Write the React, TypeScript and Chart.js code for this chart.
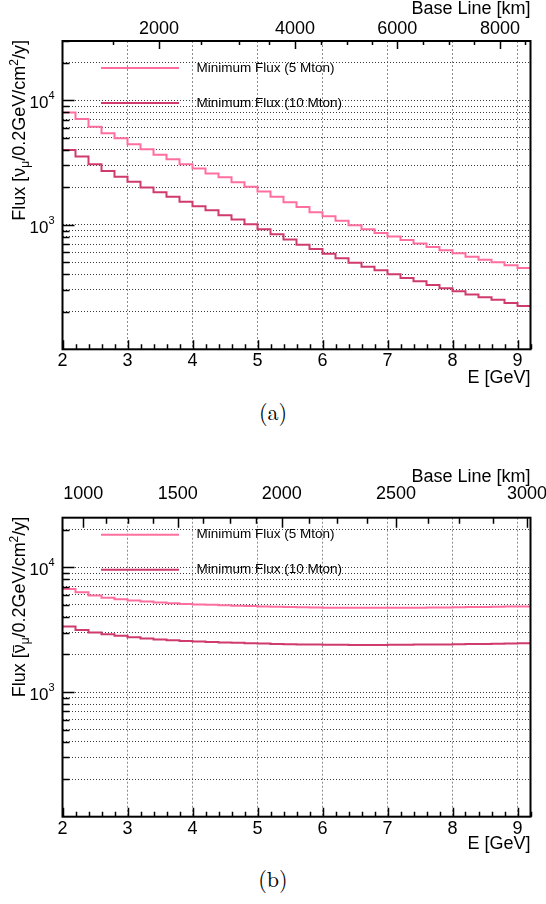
import React, { useEffect, useRef } from "react";
import { Chart, registerables } from "chart.js";
Chart.register(...registerables);

// ---------------- data ----------------
const binEdges = [
  2.0, 2.2, 2.4, 2.6, 2.8, 3.0, 3.2, 3.4, 3.6, 3.8, 4.0, 4.2, 4.4, 4.6, 4.8, 5.0, 5.2, 5.4, 5.6,
  5.8, 6.0, 6.2, 6.4, 6.6, 6.8, 7.0, 7.2, 7.4, 7.6, 7.8, 8.0, 8.2, 8.4, 8.6, 8.8, 9.0, 9.2,
];

// (a) nu_mu minimum flux
const fluxA5 = [
  8000, 7100, 6150, 5450, 4960, 4450, 4050, 3650, 3360, 3070, 2830, 2590, 2410, 2200, 2020, 1850,
  1680, 1518, 1390, 1265, 1170, 1077, 994, 923, 858, 807, 754, 709, 663, 624, 590, 555, 525, 500,
  473, 450,
];
const fluxA10 = [
  4000, 3540, 3070, 2710, 2440, 2220, 2000, 1825, 1680, 1532, 1410, 1310, 1195, 1103, 1012, 923,
  840, 763, 692, 640, 586, 538, 497, 461, 431, 401, 374, 352, 329, 310, 293, 276, 262, 250, 236,
  223,
];

// (b) anti-nu_mu minimum flux
const fluxB5 = [
  6700, 6300, 5950, 5700, 5550, 5420, 5320, 5220, 5150, 5090, 5040, 5000, 4960, 4920, 4890, 4860,
  4830, 4800, 4780, 4760, 4750, 4740, 4735, 4730, 4730, 4735, 4740, 4750, 4760, 4770, 4780, 4795,
  4810, 4825, 4840, 4860,
];
const fluxB10 = [
  3350, 3150, 3000, 2900, 2820, 2750, 2690, 2640, 2600, 2570, 2540, 2520, 2500, 2480, 2460, 2445,
  2430, 2420, 2410, 2400, 2395, 2390, 2385, 2385, 2385, 2390, 2395, 2400, 2405, 2410, 2420, 2425,
  2430, 2440, 2450, 2460,
];

const seriesLabels = ["Minimum Flux (5 Mton)", "Minimum Flux (10 Mton)"];
const xTickValues = [2, 3, 4, 5, 6, 7, 8, 9];
const yGridValues = [
  200, 300, 400, 500, 600, 700, 800, 900, 1000, 2000, 3000, 4000, 5000, 6000, 7000, 8000, 9000,
  10000, 20000, 30000,
];
const yDecades = [1000, 10000];

// top "Base Line [km]" axis: labels and the energies at which they sit
const baseLineALabels = [2000, 4000, 6000, 8000];
const baseLineAMajorE = [3.485, 5.577, 7.151, 8.731];
const baseLineAMinorE = [2.78, 4.13, 4.715, 5.18, 5.97, 6.37, 6.76, 7.55, 7.95, 8.335, 9.12];

const baseLineBLabels = [1000, 1500, 2000, 2500, 3000];
const baseLineBMajorE = [2.32, 3.772, 5.372, 7.131, 9.146];
const baseLineBMinorE = [2.665, 3.0, 3.397, 4.157, 4.577, 4.98, 5.797, 6.228, 6.68, 7.618, 8.105, 8.618];

// ---------------- style ----------------
const FONT = '"Liberation Sans", Arial, Helvetica, sans-serif';
const COLOR5 = "#ff6f9e";
const COLOR10 = "#cf3b6c";

type Piece = { t: string; k: "n" | "sub" | "sup" | "bar" };

type PanelCfg = {
  canvasH: number;
  pad: { left: number; right: number; top: number; bottom: number };
  yMax: number;
  v5: number[];
  v10: number[];
  topLabels: number[];
  topMajorE: number[];
  topMinorE: number[];
  topMajorLen: number;
  topMinorLen: number;
  topLabelDy: number;
  topTitleDy: number;
  xTitleDy: number;
  legendDy: [number, number];
  yTitle: Piece[];
};

function drawYTitle(ctx: CanvasRenderingContext2D, pieces: Piece[], xc: number, yTop: number, size: number) {
  const fN = `${size}px ${FONT}`;
  const fS = `${Math.round(size * 0.68)}px ${FONT}`;
  const widths: number[] = [];
  let total = 0;
  for (const p of pieces) {
    ctx.font = p.k === "sub" || p.k === "sup" ? fS : fN;
    const w = ctx.measureText(p.t).width;
    widths.push(w);
    total += w;
  }
  ctx.save();
  ctx.translate(xc, yTop + total);
  ctx.rotate(-Math.PI / 2);
  ctx.textAlign = "left";
  ctx.textBaseline = "alphabetic";
  ctx.fillStyle = "#000";
  const base = size * 0.36;
  let cx = 0;
  pieces.forEach((p, i) => {
    let dy = base;
    if (p.k === "sub") {
      ctx.font = fS;
      dy = base + size * 0.22;
    } else if (p.k === "sup") {
      ctx.font = fS;
      dy = base - size * 0.42;
    } else ctx.font = fN;
    ctx.fillText(p.t, cx, dy);
    if (p.k === "bar") {
      ctx.beginPath();
      ctx.lineWidth = 1;
      ctx.strokeStyle = "#000";
      ctx.moveTo(cx + 1, base - size * 0.66);
      ctx.lineTo(cx + widths[i] - 1, base - size * 0.66);
      ctx.stroke();
    }
    cx += widths[i];
  });
  ctx.restore();
}

function makePlugin(cfg: PanelCfg) {
  return {
    id: "rootAxes",
    afterDraw(chart: any) {
      const ctx: CanvasRenderingContext2D = chart.ctx;
      const { left, right, top, bottom } = chart.chartArea;
      const xs = chart.scales.x;
      const ys = chart.scales.y;
      ctx.save();
      ctx.strokeStyle = "#000";
      ctx.fillStyle = "#000";
      ctx.lineWidth = 1.5;
      // ticks bottom
      ctx.beginPath();
      for (const e of binEdges) {
        const px = Math.round(xs.getPixelForValue(e)) + 0.5;
        const major = xTickValues.some((v) => Math.abs(v - e) < 1e-6);
        ctx.moveTo(px, bottom);
        ctx.lineTo(px, bottom - (major ? 9 : 5));
      }
      // ticks left
      for (const v of yGridValues) {
        if (v > cfg.yMax) continue;
        const py = Math.round(ys.getPixelForValue(v)) + 0.5;
        const major = yDecades.includes(v);
        ctx.moveTo(left, py);
        ctx.lineTo(left + (major ? 12 : 7), py);
      }
      // ticks top
      for (const e of cfg.topMajorE) {
        const px = Math.round(xs.getPixelForValue(e)) + 0.5;
        ctx.moveTo(px, top);
        ctx.lineTo(px, top + cfg.topMajorLen);
      }
      for (const e of cfg.topMinorE) {
        const px = Math.round(xs.getPixelForValue(e)) + 0.5;
        ctx.moveTo(px, top);
        ctx.lineTo(px, top + cfg.topMinorLen);
      }
      ctx.stroke();
      // frame
      ctx.lineWidth = 2;
      ctx.strokeRect(left, top, right - left, bottom - top);

      // x labels
      ctx.font = `18px ${FONT}`;
      ctx.textAlign = "center";
      ctx.textBaseline = "middle";
      for (const v of xTickValues) ctx.fillText(String(v), xs.getPixelForValue(v), bottom + 12);
      ctx.textAlign = "right";
      ctx.fillText("E [GeV]", right, bottom + cfg.xTitleDy);

      // top labels
      ctx.textAlign = "center";
      cfg.topLabels.forEach((lab, i) => {
        ctx.fillText(String(lab), xs.getPixelForValue(cfg.topMajorE[i]), top - cfg.topLabelDy);
      });
      ctx.textAlign = "right";
      ctx.fillText("Base Line [km]", right, top - cfg.topTitleDy);

      // y labels 10^n
      for (const v of yDecades) {
        const py = ys.getPixelForValue(v);
        const exp = String(Math.round(Math.log10(v)));
        ctx.font = `11px ${FONT}`;
        const ew = ctx.measureText(exp).width;
        ctx.textAlign = "left";
        ctx.fillText(exp, left - 8 - ew, py - 4);
        ctx.font = `17px ${FONT}`;
        ctx.textAlign = "right";
        ctx.fillText("10", left - 8 - ew, py + 3);
      }

      // y title
      drawYTitle(ctx, cfg.yTitle, 19, top - 1, 18);

      // legend
      const cols = [COLOR5, COLOR10];
      ctx.font = `13.5px ${FONT}`;
      ctx.textAlign = "left";
      cols.forEach((c, i) => {
        const ly = top + cfg.legendDy[i];
        ctx.beginPath();
        ctx.strokeStyle = c;
        ctx.lineWidth = 2;
        ctx.moveTo(101, ly);
        ctx.lineTo(179, ly);
        ctx.stroke();
        ctx.fillStyle = "#000";
        ctx.fillText(seriesLabels[i], 196.5, ly);
      });
      ctx.restore();
    },
  };
}

function Panel({ cfg }: { cfg: PanelCfg }) {
  const ref = useRef<HTMLCanvasElement | null>(null);
  useEffect(() => {
    if (!ref.current) return;
    const mk = (vals: number[]) =>
      binEdges.map((x, i) => ({ x, y: vals[Math.min(i, vals.length - 1)] }));
    const chart = new Chart(ref.current, {
      type: "line",
      data: {
        datasets: [
          {
            label: seriesLabels[0],
            data: mk(cfg.v5),
            borderColor: COLOR5,
            borderWidth: 2,
            pointRadius: 0,
            stepped: "before",
            fill: false,
          },
          {
            label: seriesLabels[1],
            data: mk(cfg.v10),
            borderColor: COLOR10,
            borderWidth: 2,
            pointRadius: 0,
            stepped: "before",
            fill: false,
          },
        ],
      },
      options: {
        animation: false,
        responsive: false,
        devicePixelRatio: 1,
        layout: { padding: cfg.pad },
        plugins: { legend: { display: false }, tooltip: { enabled: false } },
        scales: {
          x: {
            type: "linear",
            min: 2,
            max: 9.2,
            ticks: { display: false },
            grid: { color: "#8c8c8c", lineWidth: 1, drawTicks: false },
            border: { display: false, dash: [2, 2] },
            afterBuildTicks: (s: any) => {
              s.ticks = xTickValues.map((v) => ({ value: v }));
            },
            afterFit: (s: any) => {
              s.height = 0;
            },
          },
          y: {
            type: "logarithmic",
            min: 100,
            max: cfg.yMax,
            ticks: { display: false },
            grid: { color: "#3a3a3a", lineWidth: 1, drawTicks: false },
            border: { display: false, dash: [1, 2] },
            afterBuildTicks: (s: any) => {
              s.ticks = yGridValues.filter((v) => v <= cfg.yMax).map((v) => ({ value: v }));
            },
            afterFit: (s: any) => {
              s.width = 0;
            },
          },
        },
      } as any,
      plugins: [makePlugin(cfg)],
    });
    return () => chart.destroy();
  }, [cfg]);
  return <canvas ref={ref} width={546} height={cfg.canvasH} style={{ display: "block" }} />;
}

const panelA: PanelCfg = {
  canvasH: 395,
  pad: { left: 62.5, right: 15.5, top: 41, bottom: 45.7 },
  yMax: 30000,
  v5: fluxA5,
  v10: fluxA10,
  topLabels: baseLineALabels,
  topMajorE: baseLineAMajorE,
  topMinorE: baseLineAMinorE,
  topMajorLen: 8,
  topMinorLen: 4,
  topLabelDy: 12,
  topTitleDy: 32,
  xTitleDy: 29,
  legendDy: [27, 62],
  yTitle: [
    { t: "Flux [", k: "n" },
    { t: "ν", k: "n" },
    { t: "μ", k: "sub" },
    { t: "/0.2GeV/cm", k: "n" },
    { t: "2", k: "sup" },
    { t: "/y]", k: "n" },
  ],
};

const panelB: PanelCfg = {
  canvasH: 405,
  pad: { left: 62.5, right: 15.5, top: 62.7, bottom: 43.3 },
  yMax: 25000,
  v5: fluxB5,
  v10: fluxB10,
  topLabels: baseLineBLabels,
  topMajorE: baseLineBMajorE,
  topMinorE: baseLineBMinorE,
  topMajorLen: 10,
  topMinorLen: 6,
  topLabelDy: 24,
  topTitleDy: 41,
  xTitleDy: 27,
  legendDy: [17, 52],
  yTitle: [
    { t: "Flux [", k: "n" },
    { t: "ν", k: "bar" },
    { t: "μ", k: "sub" },
    { t: "/0.2GeV/cm", k: "n" },
    { t: "2", k: "sup" },
    { t: "/y]", k: "n" },
  ],
};

export default function App() {
  const cap: React.CSSProperties = {
    position: "absolute",
    left: 0,
    width: 546,
    textAlign: "center",
    fontFamily: '"Latin Modern Roman", "Liberation Serif", "DejaVu Serif", serif',
    fontSize: 22,
    lineHeight: "26px",
  };
  return (
    <div style={{ position: "absolute", left: 0, top: 0, width: 546, height: 904, background: "#fff" }}>
      <div style={{ position: "absolute", left: 0, top: 0 }}>
        <Panel cfg={panelA} />
      </div>
      <div style={{ position: "absolute", left: 0, top: 455 }}>
        <Panel cfg={panelB} />
      </div>
      <div style={{ ...cap, top: 398 }}>(a)</div>
      <div style={{ ...cap, top: 865 }}>(b)</div>
    </div>
  );
}
